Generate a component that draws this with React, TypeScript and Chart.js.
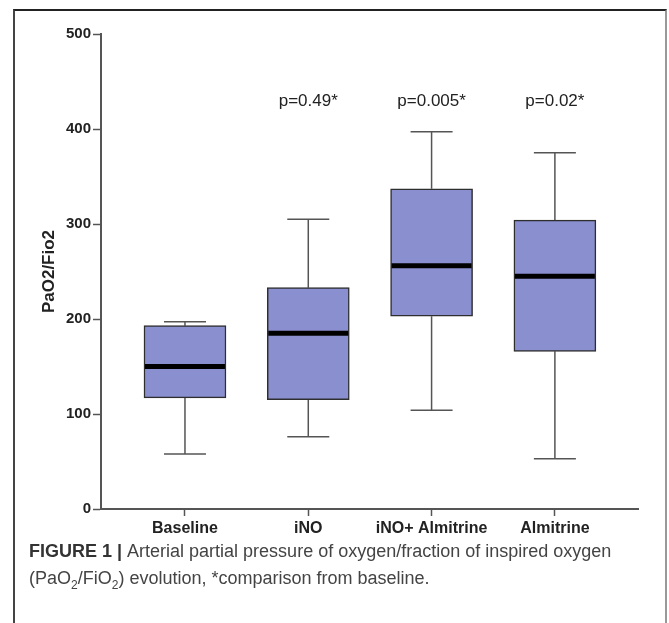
import React, { useEffect, useRef } from 'react';
import { Chart, registerables } from 'chart.js';

Chart.register(...registerables);

const categories = ['Baseline', 'iNO', 'iNO+ Almitrine', 'Almitrine'];
const whiskerMin = [58, 76, 104, 53];
const q1 = [117, 115, 203, 166];
const median = [150, 185, 256, 245];
const q3 = [193, 233, 337, 304];
const whiskerMax = [197, 305, 397, 375];
const pLabels = ['', 'p=0.49*', 'p=0.005*', 'p=0.02*'];
const pLabelValue = 429;
const yTicks = [0, 100, 200, 300, 400, 500];

const FONT = '"Liberation Sans", Arial, sans-serif';

const boxPlugin = {
  id: 'boxExtras',
  beforeDatasetsDraw(chart: any) {
    const { ctx, scales } = chart;
    const xs = scales.x;
    const ys = scales.y;
    ctx.save();
    ctx.strokeStyle = '#555';
    ctx.lineWidth = 1.5;
    categories.forEach((_, i) => {
      const x = xs.getPixelForValue(i);
      const yMin = ys.getPixelForValue(whiskerMin[i]);
      const yQ1 = ys.getPixelForValue(q1[i]);
      const yQ3 = ys.getPixelForValue(q3[i]);
      const yMax = ys.getPixelForValue(whiskerMax[i]);
      ctx.beginPath();
      ctx.moveTo(x, yQ3);
      ctx.lineTo(x, yMax);
      ctx.moveTo(x - 21, yMax);
      ctx.lineTo(x + 21, yMax);
      ctx.moveTo(x, yQ1);
      ctx.lineTo(x, yMin);
      ctx.moveTo(x - 21, yMin);
      ctx.lineTo(x + 21, yMin);
      ctx.stroke();
    });
    ctx.restore();
  },
  afterDatasetsDraw(chart: any) {
    const { ctx, scales } = chart;
    const xs = scales.x;
    const ys = scales.y;
    ctx.save();
    ctx.strokeStyle = '#000';
    ctx.lineWidth = 5;
    categories.forEach((_, i) => {
      const x = xs.getPixelForValue(i);
      const y = ys.getPixelForValue(median[i]);
      ctx.beginPath();
      ctx.moveTo(x - 40, y);
      ctx.lineTo(x + 40, y);
      ctx.stroke();
    });
    ctx.fillStyle = '#222';
    ctx.font = '17px ' + FONT;
    ctx.textAlign = 'center';
    ctx.textBaseline = 'middle';
    pLabels.forEach((t, i) => {
      if (!t) return;
      ctx.fillText(t, xs.getPixelForValue(i), ys.getPixelForValue(pLabelValue));
    });
    ctx.restore();
  },
};

export default function App() {
  const ref = useRef<HTMLCanvasElement | null>(null);

  useEffect(() => {
    if (!ref.current) return;
    const chart = new Chart(ref.current, {
      type: 'bar',
      data: {
        datasets: [
          {
            data: categories.map((_, i) => ({ x: i, y: [q1[i], q3[i]] })) as any,
            backgroundColor: '#8a8fcf',
            borderColor: '#2e2e2e',
            borderWidth: 1.5,
            borderSkipped: false,
            barThickness: 82,
          },
        ],
      },
      options: {
        animation: false,
        responsive: false,
        maintainAspectRatio: false,
        layout: { padding: { top: 34, right: 31, left: 0, bottom: 0 } },
        plugins: { legend: { display: false }, tooltip: { enabled: false } },
        scales: {
          x: {
            type: 'linear',
            offset: false,
            min: -0.681,
            max: 3.674,
            afterBuildTicks: (s: any) => {
              s.ticks = categories.map((_, i) => ({ value: i }));
            },
            afterFit: (s: any) => {
              s.height = 36;
            },
            ticks: {
              callback: (v: any) => categories[v] ?? '',
              font: { family: FONT, size: 16, weight: 'bold' },
              color: '#222',
              padding: 3,
              autoSkip: false,
              maxRotation: 0,
            },
            grid: { offset: false, drawOnChartArea: false, tickLength: 7, tickColor: '#555', tickWidth: 1.5 },
            border: { color: '#555', width: 2 },
          },
          y: {
            type: 'linear',
            min: 0,
            max: 500,
            afterBuildTicks: (s: any) => {
              s.ticks = yTicks.map((v) => ({ value: v }));
            },
            afterFit: (s: any) => {
              s.width = 101;
            },
            ticks: {
              font: { family: FONT, size: 15, weight: 'bold' },
              color: '#222',
              padding: 2,
            },
            title: {
              display: true,
              text: 'PaO2/Fio2',
              font: { family: FONT, size: 17, weight: 'bold' },
              color: '#222',
              padding: { top: 39, bottom: 0 },
            },
            grid: { drawOnChartArea: false, tickLength: 8, tickColor: '#555', tickWidth: 1.5 },
            border: { color: '#555', width: 2 },
          },
        },
      },
      plugins: [boxPlugin],
    });
    return () => chart.destroy();
  }, []);

  return (
    <div
      style={{
        position: 'fixed',
        left: 0,
        top: 0,
        width: 669,
        height: 623,
        background: '#fff',
        overflow: 'hidden',
      }}
    >
      <div
        style={{
          position: 'absolute',
          left: 13,
          top: 9,
          width: 654,
          height: 700,
          boxSizing: 'border-box',
          borderLeft: '2px solid #444',
          borderTop: '2px solid #222',
          borderRight: '2px solid #999',
        }}
      />
      <canvas ref={ref} width={669} height={545} style={{ position: 'absolute', left: 0, top: 0 }} />
      <div
        style={{
          position: 'absolute',
          left: 29,
          top: 538,
          width: 625,
          fontFamily: FONT,
          fontSize: 18,
          lineHeight: '27px',
          color: '#444',
        }}
      >
        <span style={{ fontWeight: 'bold', color: '#333' }}>FIGURE 1 | </span>
        Arterial partial pressure of oxygen/fraction of inspired oxygen (PaO
        <sub style={{ fontSize: 12, lineHeight: 0 }}>2</sub>/FiO
        <sub style={{ fontSize: 12, lineHeight: 0 }}>2</sub>) evolution, *comparison from baseline.
      </div>
    </div>
  );
}
